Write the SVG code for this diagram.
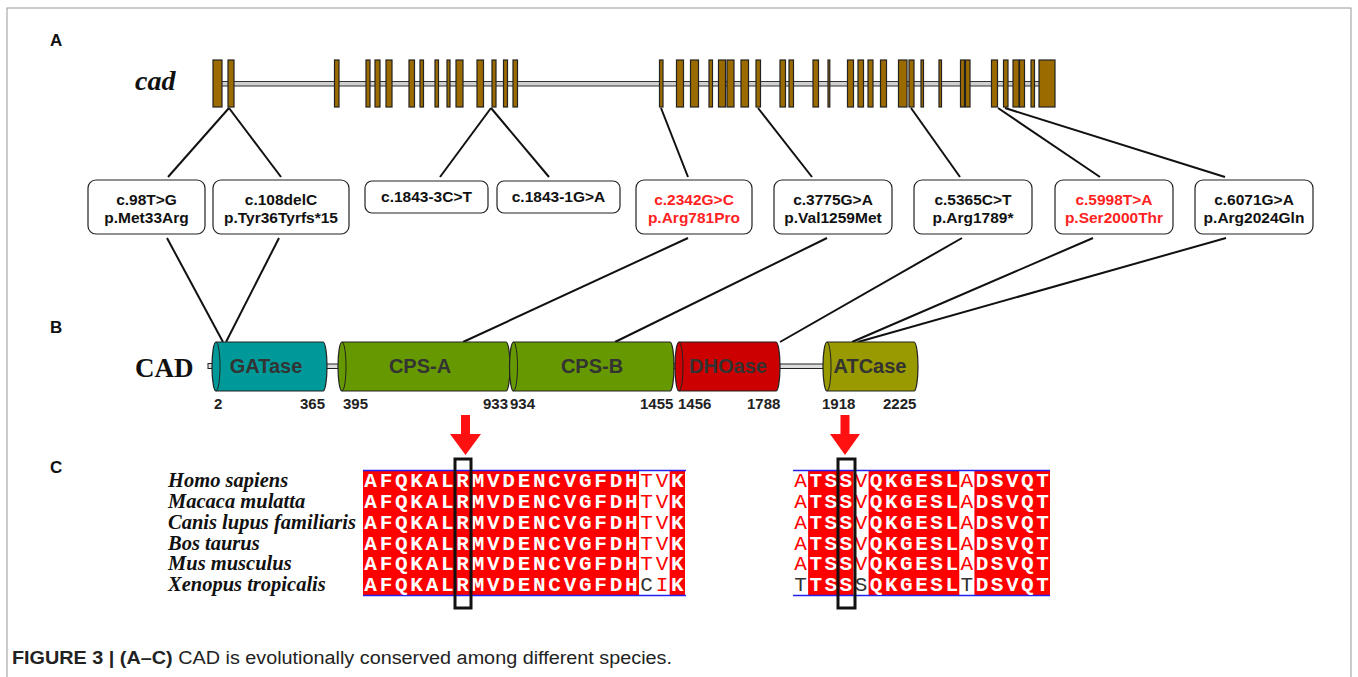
<svg xmlns="http://www.w3.org/2000/svg" width="1358" height="677" viewBox="0 0 1358 677">
<defs>
<style>
.lbl{font-family:"Liberation Sans",Arial,sans-serif;font-weight:bold;font-size:17px;fill:#111}
.exon{fill:#9c6b00;stroke:#222;stroke-width:1.2}
.intron{fill:#d0d0d0;stroke:#333;stroke-width:1}
.mbox{fill:#fff;stroke:#222;stroke-width:1.2}
.mt{font-family:"Liberation Sans",Arial,sans-serif;font-weight:bold;font-size:15.5px;text-anchor:middle;fill:#111}
.red{fill:#ff2222}
.conn line{stroke:#111;stroke-width:2}
.dom{stroke:#222;stroke-width:1.2}
.face{fill:none;stroke:#222;stroke-width:1}
.dt{font-family:"Liberation Sans",Arial,sans-serif;font-weight:bold;font-size:20px;fill:#333;text-anchor:middle}
.num{font-family:"Liberation Sans",Arial,sans-serif;font-weight:bold;font-size:15px;fill:#222}
.sp{font-family:"Liberation Serif","Times New Roman",serif;font-weight:bold;font-style:italic;font-size:20.5px;fill:#111}
.res{font-family:"Liberation Mono","Courier New",monospace;font-weight:bold;font-size:21px;text-anchor:middle}
.w{fill:#fff}
.r{fill:#ff0000;font-weight:normal}
.k{fill:#333;font-weight:normal}
.bg{fill:#ff0000}
.blue{stroke:#2222ee;stroke-width:1.6}
.hl{fill:none;stroke:#111;stroke-width:3}
</style>
</defs>
<rect width="1358" height="677" fill="#fff"/>
<rect x="7" y="8" width="1344" height="720" fill="none" stroke="#999" stroke-width="1"/>

<text class="lbl" x="50" y="46">A</text>
<text class="lbl" x="50" y="333">B</text>
<text class="lbl" x="50" y="473">C</text>

<!-- gene structure -->
<g id="gene">
<text x="135" y="90" font-family="Liberation Serif,'Times New Roman',serif" font-weight="bold" font-style="italic" font-size="28" fill="#111">cad</text>
<rect class="intron" x="218" y="81.5" width="825" height="4.5"/>
<rect class="exon" x="213" y="60" width="9" height="47"/>
<rect class="exon" x="228" y="60" width="6" height="47"/>
<rect class="exon" x="334.5" y="60" width="4.5" height="47"/>
<rect class="exon" x="366" y="60" width="4" height="47"/>
<rect class="exon" x="375" y="60" width="5" height="47"/>
<rect class="exon" x="386" y="60" width="6" height="47"/>
<rect class="exon" x="409" y="60" width="5.5" height="47"/>
<rect class="exon" x="420" y="60" width="3.5" height="47"/>
<rect class="exon" x="435" y="60" width="3.5" height="47"/>
<rect class="exon" x="447" y="60" width="3" height="47"/>
<rect class="exon" x="456" y="60" width="7" height="47"/>
<rect class="exon" x="477" y="60" width="6.5" height="47"/>
<rect class="exon" x="492" y="60" width="4" height="47"/>
<rect class="exon" x="503.5" y="60" width="4" height="47"/>
<rect class="exon" x="513" y="60" width="4.5" height="47"/>
<rect class="exon" x="659.5" y="60" width="3.5" height="47"/>
<rect class="exon" x="676.5" y="60" width="7" height="47"/>
<rect class="exon" x="690.5" y="60" width="8" height="47"/>
<rect class="exon" x="709" y="60" width="3.5" height="47"/>
<rect class="exon" x="718.5" y="60" width="7" height="47"/>
<rect class="exon" x="727" y="60" width="7" height="47"/>
<rect class="exon" x="741" y="60" width="7.5" height="47"/>
<rect class="exon" x="756" y="60" width="4.5" height="47"/>
<rect class="exon" x="780" y="60" width="5.5" height="47"/>
<rect class="exon" x="789" y="60" width="4.5" height="47"/>
<rect class="exon" x="813" y="60" width="5.5" height="47"/>
<rect class="exon" x="828" y="60" width="1.8" height="47"/>
<rect class="exon" x="847.5" y="60" width="6" height="47"/>
<rect class="exon" x="858" y="60" width="5.5" height="47"/>
<rect class="exon" x="868" y="60" width="5" height="47"/>
<rect class="exon" x="880.5" y="60" width="6" height="47"/>
<rect class="exon" x="898.5" y="60" width="8.5" height="47"/>
<rect class="exon" x="909" y="60" width="5" height="47"/>
<rect class="exon" x="921" y="60" width="2.5" height="47"/>
<rect class="exon" x="939" y="60" width="2.5" height="47"/>
<rect class="exon" x="960.5" y="60" width="4" height="47"/>
<rect class="exon" x="965.5" y="60" width="4.5" height="47"/>
<rect class="exon" x="991.5" y="60" width="6" height="47"/>
<rect class="exon" x="1003.5" y="60" width="4.5" height="47"/>
<rect class="exon" x="1013" y="60" width="6" height="47"/>
<rect class="exon" x="1019.5" y="60" width="5" height="47"/>
<rect class="exon" x="1031" y="60" width="3.5" height="47"/>
<rect class="exon" x="1039" y="60" width="16" height="47"/>
</g>

<!-- connectors -->
<g id="connectors" class="conn">
<line x1="229" y1="108" x2="168" y2="177"/>
<line x1="229" y1="108" x2="281" y2="177"/>
<line x1="491" y1="108" x2="440" y2="177"/>
<line x1="491" y1="108" x2="549" y2="177"/>
<line x1="661" y1="108" x2="688" y2="177"/>
<line x1="758" y1="108" x2="812" y2="177"/>
<line x1="911" y1="108" x2="960" y2="177"/>
<line x1="998" y1="108" x2="1100" y2="177"/>
<line x1="1005" y1="108" x2="1225" y2="177"/>
<line x1="167" y1="238" x2="223" y2="342"/>
<line x1="279" y1="238" x2="226" y2="342"/>
<line x1="688" y1="238" x2="463" y2="342"/>
<line x1="827" y1="238" x2="615" y2="342"/>
<line x1="962" y1="238" x2="780" y2="342"/>
<line x1="1093" y1="238" x2="852" y2="342"/>
<line x1="1226" y1="238" x2="858" y2="342"/>
</g>

<!-- mutation boxes -->
<g id="m1"><rect class="mbox" x="88" y="180" width="117" height="54" rx="8"/><text class="mt" x="146.5" y="205">c.98T&gt;G</text><text class="mt" x="146.5" y="223">p.Met33Arg</text></g>
<g id="m2"><rect class="mbox" x="213" y="180" width="136" height="54" rx="8"/><text class="mt" x="281" y="205">c.108delC</text><text class="mt" x="281" y="223">p.Tyr36Tyrfs*15</text></g>
<g id="m3"><rect class="mbox" x="365" y="181" width="123" height="32" rx="7"/><text class="mt" x="426.5" y="202">c.1843-3C&gt;T</text></g>
<g id="m4"><rect class="mbox" x="497" y="181" width="123" height="32" rx="7"/><text class="mt" x="558.5" y="202">c.1843-1G&gt;A</text></g>
<g id="m5"><rect class="mbox" x="636" y="180" width="116" height="54" rx="8"/><text class="mt red" x="694" y="205">c.2342G&gt;C</text><text class="mt red" x="694" y="223">p.Arg781Pro</text></g>
<g id="m6"><rect class="mbox" x="774" y="180" width="118" height="54" rx="8"/><text class="mt" x="833" y="205">c.3775G&gt;A</text><text class="mt" x="833" y="223">p.Val1259Met</text></g>
<g id="m7"><rect class="mbox" x="914" y="180" width="118" height="54" rx="8"/><text class="mt" x="973" y="205">c.5365C&gt;T</text><text class="mt" x="973" y="223">p.Arg1789*</text></g>
<g id="m8"><rect class="mbox" x="1055" y="180" width="118" height="54" rx="8"/><text class="mt red" x="1114" y="205">c.5998T&gt;A</text><text class="mt red" x="1114" y="223">p.Ser2000Thr</text></g>
<g id="m9"><rect class="mbox" x="1195" y="180" width="118" height="54" rx="8"/><text class="mt" x="1254" y="205">c.6071G&gt;A</text><text class="mt" x="1254" y="223">p.Arg2024Gln</text></g>

<!-- protein -->
<g id="protein">
<text x="135" y="377" font-family="Liberation Serif,'Times New Roman',serif" font-weight="bold" font-size="27" fill="#111">CAD</text>
<rect x="208" y="363.5" width="6" height="5" fill="#ddd" stroke="#222" stroke-width="1"/>
<rect x="326" y="364" width="14" height="4.5" fill="#ddd" stroke="#222" stroke-width="1"/>
<rect x="506" y="363.5" width="7" height="5" fill="#ddd" stroke="#222" stroke-width="1"/>
<rect x="670" y="363.5" width="8" height="5" fill="#ddd" stroke="#222" stroke-width="1"/>
<rect x="779" y="364" width="48" height="4.5" fill="#ddd" stroke="#222" stroke-width="1"/>
</g>
<g id="GATase"><path class="dom" fill="#009999" d="M216 342 H323 A4 24.5 0 0 1 323 391 H216 A4 24.5 0 0 1 216 342 Z"/><path class="face" d="M216 342 A4 24.5 0 0 1 216 391"/><text class="dt" x="266" y="373">GATase</text></g>
<g id="CPS-A"><path class="dom" fill="#669900" d="M342 342 H506 A4 24.5 0 0 1 506 391 H342 A4 24.5 0 0 1 342 342 Z"/><path class="face" d="M342 342 A4 24.5 0 0 1 342 391"/><text class="dt" x="420" y="373">CPS-A</text></g>
<g id="CPS-B"><path class="dom" fill="#669900" d="M513.5 342 H670 A4 24.5 0 0 1 670 391 H513.5 A4 24.5 0 0 1 513.5 342 Z"/><path class="face" d="M513.5 342 A4 24.5 0 0 1 513.5 391"/><text class="dt" x="592" y="373">CPS-B</text></g>
<g id="DHOase"><path class="dom" fill="#cc0000" d="M679 342 H776 A4 24.5 0 0 1 776 391 H679 A4 24.5 0 0 1 679 342 Z"/><path class="face" d="M679 342 A4 24.5 0 0 1 679 391"/><text class="dt" x="728" y="373">DHOase</text></g>
<g id="ATCase"><path class="dom" fill="#999900" d="M827 342 H914 A4 24.5 0 0 1 914 391 H827 A4 24.5 0 0 1 827 342 Z"/><path class="face" d="M827 342 A4 24.5 0 0 1 827 391"/><text class="dt" x="870" y="373">ATCase</text></g>

<g id="numbers">
<text class="num" x="214" y="409">2</text>
<text class="num" x="300" y="409">365</text>
<text class="num" x="343" y="409">395</text>
<text class="num" x="483" y="409">933</text>
<text class="num" x="510" y="409">934</text>
<text class="num" x="640" y="409">1455</text>
<text class="num" x="678" y="409">1456</text>
<text class="num" x="747" y="409">1788</text>
<text class="num" x="822" y="409">1918</text>
<text class="num" x="883" y="409">2225</text>
</g>

<!-- arrows -->
<g id="arrows" fill="#ff1111">
<path d="M461 415 H470 V434 H481 L465.5 455 L450 434 H461 Z"/>
<path d="M840.5 415 H849.5 V434 H860 L845 455 L830 434 H840.5 Z"/>
</g>

<!-- species -->
<g id="species">
<text class="sp" x="168" y="487">Homo sapiens</text>
<text class="sp" x="168" y="507.8">Macaca mulatta</text>
<text class="sp" x="168" y="528.7">Canis lupus familiaris</text>
<text class="sp" x="168" y="549.5">Bos taurus</text>
<text class="sp" x="168" y="570.3">Mus musculus</text>
<text class="sp" x="168" y="591.2">Xenopus tropicalis</text>
</g>

<!-- left alignment -->
<g id="align1">
<rect class="bg" x="363" y="470.5" width="276" height="125"/>
<rect class="bg" x="669.67" y="470.5" width="15.33" height="125"/>
<line class="blue" x1="363" y1="470.5" x2="686" y2="470.5"/>
<line class="blue" x1="363" y1="595.5" x2="686" y2="595.5"/>
<g class="res">
<text y="487"><tspan class="w" x="370.67 386 401.33 416.67 432 447.33 462.67 478 493.33 508.67 524 539.33 554.67 570 585.33 600.67 616 631.33">AFQKALRMVDENCVGFDH</tspan><tspan class="r" x="646.67 662">TV</tspan><tspan class="w" x="677.33">K</tspan></text>
<text y="507.8"><tspan class="w" x="370.67 386 401.33 416.67 432 447.33 462.67 478 493.33 508.67 524 539.33 554.67 570 585.33 600.67 616 631.33">AFQKALRMVDENCVGFDH</tspan><tspan class="r" x="646.67 662">TV</tspan><tspan class="w" x="677.33">K</tspan></text>
<text y="528.7"><tspan class="w" x="370.67 386 401.33 416.67 432 447.33 462.67 478 493.33 508.67 524 539.33 554.67 570 585.33 600.67 616 631.33">AFQKALRMVDENCVGFDH</tspan><tspan class="r" x="646.67 662">TV</tspan><tspan class="w" x="677.33">K</tspan></text>
<text y="549.5"><tspan class="w" x="370.67 386 401.33 416.67 432 447.33 462.67 478 493.33 508.67 524 539.33 554.67 570 585.33 600.67 616 631.33">AFQKALRMVDENCVGFDH</tspan><tspan class="r" x="646.67 662">TV</tspan><tspan class="w" x="677.33">K</tspan></text>
<text y="570.3"><tspan class="w" x="370.67 386 401.33 416.67 432 447.33 462.67 478 493.33 508.67 524 539.33 554.67 570 585.33 600.67 616 631.33">AFQKALRMVDENCVGFDH</tspan><tspan class="r" x="646.67 662">TV</tspan><tspan class="w" x="677.33">K</tspan></text>
<text y="591.2"><tspan class="w" x="370.67 386 401.33 416.67 432 447.33 462.67 478 493.33 508.67 524 539.33 554.67 570 585.33 600.67 616 631.33">AFQKALRMVDENCVGFDH</tspan><tspan class="k" x="646.67">C</tspan><tspan class="r" x="662">I</tspan><tspan class="w" x="677.33">K</tspan></text>
</g>
<rect class="hl" x="455" y="459" width="16" height="149"/>
</g>

<!-- right alignment -->
<g id="align2">
<rect class="bg" x="808.12" y="470.5" width="45.35" height="125"/>
<rect class="bg" x="868.59" y="470.5" width="90.7" height="125"/>
<rect class="bg" x="974.41" y="470.5" width="75.59" height="125"/>
<line class="blue" x1="793" y1="470.5" x2="1050" y2="470.5"/>
<line class="blue" x1="793" y1="595.5" x2="1050" y2="595.5"/>
<g class="res">
<text y="487"><tspan class="r" x="800.56">A</tspan><tspan class="w" x="815.68 830.79 845.91">TSS</tspan><tspan class="r" x="861.03">V</tspan><tspan class="w" x="876.15 891.26 906.38 921.5 936.62 951.74">QKGESL</tspan><tspan class="r" x="966.85">A</tspan><tspan class="w" x="981.97 997.09 1012.21 1027.32 1042.44">DSVQT</tspan></text>
<text y="507.8"><tspan class="r" x="800.56">A</tspan><tspan class="w" x="815.68 830.79 845.91">TSS</tspan><tspan class="r" x="861.03">V</tspan><tspan class="w" x="876.15 891.26 906.38 921.5 936.62 951.74">QKGESL</tspan><tspan class="r" x="966.85">A</tspan><tspan class="w" x="981.97 997.09 1012.21 1027.32 1042.44">DSVQT</tspan></text>
<text y="528.7"><tspan class="r" x="800.56">A</tspan><tspan class="w" x="815.68 830.79 845.91">TSS</tspan><tspan class="r" x="861.03">V</tspan><tspan class="w" x="876.15 891.26 906.38 921.5 936.62 951.74">QKGESL</tspan><tspan class="r" x="966.85">A</tspan><tspan class="w" x="981.97 997.09 1012.21 1027.32 1042.44">DSVQT</tspan></text>
<text y="549.5"><tspan class="r" x="800.56">A</tspan><tspan class="w" x="815.68 830.79 845.91">TSS</tspan><tspan class="r" x="861.03">V</tspan><tspan class="w" x="876.15 891.26 906.38 921.5 936.62 951.74">QKGESL</tspan><tspan class="r" x="966.85">A</tspan><tspan class="w" x="981.97 997.09 1012.21 1027.32 1042.44">DSVQT</tspan></text>
<text y="570.3"><tspan class="r" x="800.56">A</tspan><tspan class="w" x="815.68 830.79 845.91">TSS</tspan><tspan class="r" x="861.03">V</tspan><tspan class="w" x="876.15 891.26 906.38 921.5 936.62 951.74">QKGESL</tspan><tspan class="r" x="966.85">A</tspan><tspan class="w" x="981.97 997.09 1012.21 1027.32 1042.44">DSVQT</tspan></text>
<text y="591.2"><tspan class="k" x="800.56">T</tspan><tspan class="w" x="815.68 830.79 845.91">TSS</tspan><tspan class="k" x="861.03">S</tspan><tspan class="w" x="876.15 891.26 906.38 921.5 936.62 951.74">QKGESL</tspan><tspan class="k" x="966.85">T</tspan><tspan class="w" x="981.97 997.09 1012.21 1027.32 1042.44">DSVQT</tspan></text>
</g>
<rect class="hl" x="838" y="459" width="17" height="149"/>
</g>

<text x="12" y="664" font-family="Liberation Sans,Arial,sans-serif" font-size="18" fill="#222" textLength="660" lengthAdjust="spacingAndGlyphs"><tspan font-weight="bold">FIGURE 3 | (A–C)</tspan> CAD is evolutionally conserved among different species.</text>
</svg>
